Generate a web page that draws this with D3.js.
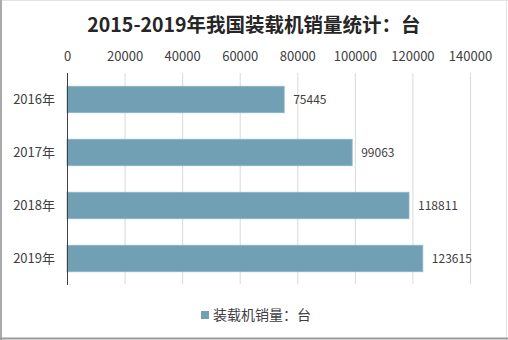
<!DOCTYPE html>
<html><head><meta charset="utf-8">
<script src="https://cdn.jsdelivr.net/npm/d3@7"></script>
<style>body{margin:0;background:#fff}svg{display:block}</style>
</head><body>
<script>
const categories = ["2016年","2017年","2018年","2019年"];
const values = [75445, 99063, 118811, 123615];
const tickValues = [0,20000,40000,60000,80000,100000,120000,140000];
const seriesName = "装载机销量：台";
const title = "2015-2019年我国装载机销量统计：台";

const W = 508, H = 340;
const font = "'Microsoft YaHei','Noto Sans CJK SC','Noto Sans',sans-serif";
const svg = d3.select("body").append("svg").attr("width", W).attr("height", H);
svg.append("rect").attr("width", W).attr("height", H).attr("fill", "#fff");

// frame
svg.append("line").attr("x1",0).attr("x2",W).attr("y1",0.5).attr("y2",0.5).attr("stroke","#e3e3e3");
svg.append("line").attr("x1",W-1.5).attr("x2",W-1.5).attr("y1",0).attr("y2",H).attr("stroke","#e3e3e3");
svg.append("line").attr("x1",1).attr("x2",1).attr("y1",0).attr("y2",H).attr("stroke","#aaaaaa").attr("stroke-width",2);
svg.append("line").attr("x1",0).attr("x2",W).attr("y1",338.5).attr("y2",338.5).attr("stroke","#9a9a9a").attr("stroke-width",2);

const x = d3.scaleLinear().domain([0,140000]).range([67,470]);
const y = d3.scaleBand().domain(categories).range([73,285]).paddingInner(0.5).paddingOuter(0.25);

// gridlines
svg.append("g").selectAll("line").data(tickValues.slice(1)).join("line")
  .attr("x1",d=>x(d)+0.5).attr("x2",d=>x(d)+0.5).attr("y1",73).attr("y2",284)
  .attr("stroke","#d9d9d9").attr("stroke-width",1);

// top axis labels
const xAxis = d3.axisTop(x).tickValues(tickValues).tickSize(0).tickFormat(d3.format("d"));
const gx = svg.append("g").attr("transform","translate(0,64)").call(xAxis);
gx.select(".domain").remove();
gx.selectAll("text").attr("font-family",font).attr("font-size",13).attr("fill","#404040");

// bars
svg.append("g").selectAll("rect").data(values).join("rect")
  .attr("x", x(0)).attr("y",(d,i)=>y(categories[i]))
  .attr("width", d=>x(d)-x(0)).attr("height", y.bandwidth())
  .attr("fill","#71a0b4").attr("stroke","#8fb6c6").attr("stroke-width",0.8);

// y axis line
svg.append("line").attr("x1",67.5).attr("x2",67.5).attr("y1",73).attr("y2",285).attr("stroke","#404040").attr("stroke-width",1);

// category labels
const gy = svg.append("g").attr("transform","translate(55,0)").call(d3.axisLeft(y).tickSize(0).tickPadding(0));
gy.select(".domain").remove();
gy.selectAll("text").attr("font-family",font).attr("font-size",13).attr("fill","#404040");

// value labels
svg.append("g").selectAll("text").data(values).join("text")
  .attr("x", d=>x(d)+9).attr("y",(d,i)=>y(categories[i])+y.bandwidth()/2)
  .attr("dy","0.35em").attr("font-family",font).attr("font-size",12).attr("fill","#404040")
  .text(d=>d);

// title
svg.append("text").attr("x",254).attr("y",32).attr("text-anchor","middle")
  .attr("font-family",font).attr("font-size",19.5).attr("font-weight","bold").attr("fill","#262626").text(title);

// legend
svg.append("rect").attr("x",201).attr("y",311).attr("width",8).attr("height",8).attr("fill","#71a0b4");
svg.append("text").attr("x",213).attr("y",315).attr("dy","0.35em").attr("font-family",font)
  .attr("font-size",14).attr("fill","#404040").text(seriesName);
</script>
</body></html>
